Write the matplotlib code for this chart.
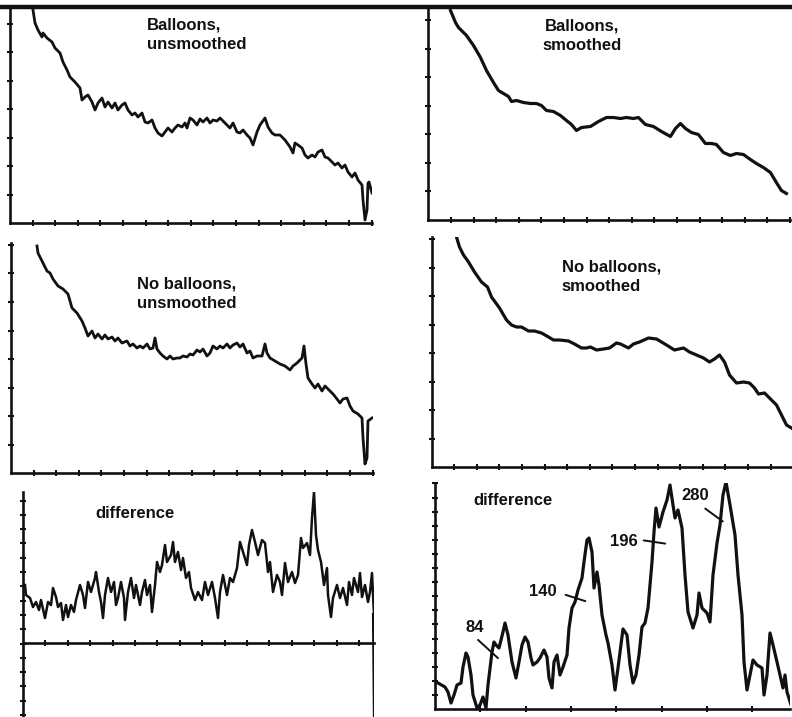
import numpy as np
import matplotlib
matplotlib.use("Agg")
import matplotlib.pyplot as plt

plt.rcParams['font.family'] = ['Liberation Sans', 'DejaVu Sans']

bal_raw_x = [23, 25, 28, 32, 33, 37, 42, 45, 50, 53, 57, 60, 65, 70, 72, 75, 78, 82, 85, 88,
             92, 95, 98, 102, 105, 108, 112, 115, 118, 122, 125, 128, 132, 135, 138, 142, 145,
             148, 152, 155, 158, 162, 165, 168, 172, 175, 177, 180, 183, 187, 190, 193, 197,
             200, 203, 207, 210, 213, 217, 220, 223, 227, 230, 233, 237, 240, 243, 247, 250,
             255, 258, 262, 265, 270, 275, 280, 283, 285, 288, 292, 295, 298, 302, 305, 308,
             312, 315, 318, 322, 325, 328, 332, 335, 338, 342, 345, 348, 352, 353, 355, 357,
             358, 359, 362]
bal_raw_y = [213, 200, 193, 186, 190, 185, 181, 175, 170, 161, 153, 146, 141, 135, 123, 126,
             128, 121, 113, 120, 125, 116, 121, 115, 120, 113, 118, 120, 113, 108, 110, 106,
             110, 101, 100, 103, 95, 90, 87, 91, 95, 91, 95, 98, 96, 100, 95, 105, 103, 98,
             104, 101, 105, 100, 103, 102, 105, 102, 98, 95, 100, 91, 90, 93, 88, 85, 78, 91,
             98, 105, 96, 90, 88, 88, 83, 76, 70, 80, 78, 75, 68, 65, 68, 66, 71, 73, 66, 65,
             61, 58, 60, 55, 58, 51, 46, 50, 43, 38, 23, 3, 13, 40, 41, 30]

bal_sm_x = [22, 27, 30, 38, 45, 52, 58, 65, 70, 75, 80, 83, 88, 95, 102, 108, 113, 118, 125,
            132, 138, 143, 148, 153, 162, 170, 178, 185, 192, 198, 205, 210, 217, 225, 233,
            242, 247, 252, 257, 263, 270, 277, 283, 288, 295, 302, 308, 315, 322, 328, 335,
            342, 348, 353, 358]
bal_sm_y = [209, 197, 192, 184, 174, 162, 149, 137, 129, 126, 123, 118, 119, 117, 116, 116,
            114, 109, 108, 104, 99, 95, 89, 92, 93, 98, 102, 102, 101, 102, 101, 102, 95, 93,
            88, 83, 91, 96, 91, 87, 85, 76, 76, 75, 67, 64, 66, 65, 60, 56, 52, 47, 37, 29, 26]

nob_raw_x = [26, 27, 31, 36, 39, 42, 47, 52, 57, 61, 66, 71, 74, 77, 81, 84, 87, 91, 94, 97,
             101, 104, 107, 111, 116, 119, 122, 126, 129, 132, 136, 139, 142, 144, 146, 149,
             152, 156, 159, 162, 166, 169, 172, 176, 179, 182, 186, 189, 192, 196, 199, 202,
             206, 209, 212, 216, 219, 222, 226, 229, 232, 236, 239, 242, 246, 251, 254, 256,
             259, 264, 269, 274, 279, 282, 286, 291, 293, 295, 297, 301, 304, 307, 311, 314,
             319, 322, 326, 329, 332, 336, 339, 342, 347, 351, 352, 354, 356, 357, 361]
nob_raw_y = [227, 220, 212, 202, 200, 194, 187, 184, 179, 165, 160, 152, 145, 137, 142, 135,
             139, 134, 138, 134, 136, 132, 135, 130, 132, 127, 129, 125, 127, 125, 129, 124,
             125, 135, 124, 120, 117, 114, 117, 114, 115, 115, 117, 116, 119, 118, 123, 121,
             124, 117, 120, 127, 124, 127, 125, 129, 125, 128, 130, 126, 129, 120, 122, 115,
             117, 117, 129, 120, 115, 112, 109, 107, 103, 107, 110, 115, 127, 109, 95, 89, 85,
             89, 82, 87, 82, 79, 74, 70, 74, 75, 67, 62, 59, 55, 35, 9, 15, 52, 55]

nob_sm_x = [25, 28, 32, 37, 43, 50, 56, 60, 68, 75, 80, 85, 90, 97, 103, 110, 117, 122, 128,
            137, 143, 150, 155, 159, 165, 172, 178, 185, 189, 197, 202, 208, 217, 225, 230,
            235, 243, 252, 258, 265, 272, 278, 283, 288, 293, 298, 305, 312, 318, 323, 327,
            333, 338, 345, 350, 355, 360]
nob_sm_y = [230, 220, 212, 205, 195, 185, 180, 170, 159, 147, 142, 140, 140, 136, 136, 134,
            130, 127, 127, 126, 123, 119, 119, 120, 117, 118, 119, 124, 123, 119, 123, 125,
            129, 128, 125, 122, 117, 119, 115, 112, 109, 105, 108, 112, 105, 92, 84, 85, 84,
            79, 73, 74, 69, 62, 52, 42, 39]

diff_raw_x = [2, 3, 7, 10, 13, 16, 18, 22, 25, 28, 30, 33, 35, 38, 40, 43, 45, 48, 51, 53,
              57, 60, 62, 65, 68, 72, 73, 76, 78, 80, 82, 85, 88, 91, 93, 95, 98, 101, 102,
              105, 108, 111, 113, 117, 119, 122, 124, 127, 129, 132, 134, 137, 139, 142, 144,
              148, 150, 152, 155, 158, 160, 163, 166, 168, 172, 175, 179, 182, 185, 189, 192,
              195, 197, 200, 204, 207, 210, 214, 217, 220, 224, 226, 229, 232, 235, 239, 242,
              245, 247, 250, 254, 257, 259, 262, 265, 269, 272, 275, 278, 280, 284, 287, 289,
              291, 293, 295, 298, 301, 304, 305, 308, 310, 314, 317, 320, 324, 326, 329, 331,
              335, 337, 339, 342, 345, 347, 349, 351, 352, 353, 354, 357, 360]
diff_raw_y = [58, 48, 45, 36, 41, 33, 43, 25, 41, 38, 55, 46, 36, 40, 23, 38, 26, 38, 31, 43,
              58, 48, 35, 61, 51, 65, 71, 51, 41, 25, 48, 65, 51, 61, 38, 45, 61, 45, 23, 51,
              65, 45, 58, 38, 51, 63, 48, 58, 31, 58, 81, 71, 78, 98, 81, 88, 101, 81, 91, 73,
              85, 65, 71, 55, 43, 51, 43, 61, 48, 61, 45, 25, 51, 68, 48, 65, 61, 75, 101, 91,
              78, 98, 113, 101, 88, 103, 100, 71, 81, 51, 68, 61, 48, 80, 61, 71, 60, 68, 105,
              95, 100, 88, 125, 151, 108, 93, 81, 58, 75, 48, 26, 45, 58, 45, 55, 38, 61, 48,
              65, 51, 70, 46, 58, 41, 51, 70, 28, -80, -80, 91, 55, 73]

diff_sm_x = [3, 10, 13, 16, 19, 22, 26, 28, 31, 33, 36, 38, 42, 45, 48, 51, 53, 57, 59, 61,
             64, 68, 70, 73, 77, 81, 84, 87, 90, 93, 96, 98, 102, 105, 109, 112, 114, 117,
             119, 122, 125, 128, 132, 134, 137, 140, 143, 147, 149, 152, 154, 157, 159, 162,
             164, 167, 171, 173, 177, 180, 183, 188, 192, 195, 198, 201, 204, 207, 210, 213,
             217, 219, 221, 224, 228, 232, 235, 238, 240, 243, 247, 250, 253, 258, 262, 264,
             267, 272, 275, 278, 282, 285, 288, 291, 295, 300, 303, 307, 309, 312, 315, 318,
             322, 327, 329, 332, 335, 338, 342, 345, 348, 350, 352, 357]
diff_sm_y = [26, 22, 17, 6, 14, 24, 26, 42, 56, 52, 34, 14, 1, 4, 12, 1, 24, 57, 67, 64, 61,
             77, 86, 74, 47, 31, 47, 64, 72, 67, 51, 44, 47, 51, 59, 52, 31, 21, 47, 54, 34,
             42, 54, 81, 101, 107, 119, 131, 147, 169, 171, 157, 121, 137, 124, 94, 74, 66,
             44, 19, 41, 80, 74, 44, 26, 34, 54, 82, 86, 101, 147, 177, 201, 182, 197, 209,
             224, 204, 191, 199, 181, 134, 97, 81, 94, 116, 101, 96, 87, 134, 166, 184, 214,
             227, 204, 174, 134, 94, 47, 19, 34, 49, 44, 41, 14, 34, 76, 64, 47, 34, 21, 34,
             17, 1]

peak_labels = ['84', '140', '196', '280']
label_xy = [(40, 81), (108, 118), (189, 167), (260, 214)]
pointer_xy = [(65, 49), (153, 107), (233, 165), (290, 186)]
pointer_from = [(41, 71), (128, 115), (206, 169), (268, 202)]

W, H = 792, 717
fig = plt.figure(figsize=(W / 100, H / 100), dpi=100)
fig.patch.set_facecolor('white')
INK = '#111111'


def panel(left, top, width, height, ymin=0, xstep=22.6, ystep=28.5):
    ax = fig.add_axes([left / W, 1 - (top + height) / H, width / W, height / H])
    ax.set_xlim(0, width)
    ax.set_ylim(ymin, ymin + height)
    ax.patch.set_alpha(0)
    for s in ['top', 'right']:
        ax.spines[s].set_visible(False)
    for s in ['left', 'bottom']:
        ax.spines[s].set_linewidth(1.9)
        ax.spines[s].set_color(INK)
    ax.set_xticks(np.arange(xstep, width + 1, xstep))
    ax.set_yticks(np.arange(ystep, ymin + height, ystep))
    ax.tick_params(direction='inout', length=5, width=1.5, color=INK,
                   labelleft=False, labelbottom=False)
    return ax


lw_raw = 2.0
lw_sm = 2.3
txt = dict(fontsize=12, fontweight='bold', color=INK, ha='left', va='top',
           linespacing=1.35)

# top border
fig.add_artist(plt.Line2D([0, 1], [1 - 7 / H, 1 - 7 / H], transform=fig.transFigure,
                          color=INK, lw=3.2))

ax1 = panel(10, 9, 362, 214)
ax1.plot(bal_raw_x, bal_raw_y, color=INK, lw=lw_raw)
ax1.text(137, 205, 'Balloons,\nunsmoothed', **txt)

ax2 = panel(428.5, 9, 361.5, 210.5)
ax2.plot(bal_sm_x, bal_sm_y, color=INK, lw=lw_sm)
ax2.text(154, 201, 'Balloons,\nsmoothed', **dict(txt, ha='center', multialignment='center'))

ax3 = panel(11, 243, 362, 230)
ax3.plot(nob_raw_x, nob_raw_y, color=INK, lw=lw_raw)
ax3.text(126, 196, 'No balloons,\nunsmoothed', **txt)

ax4 = panel(431.5, 237, 360.5, 230)
ax4.plot(nob_sm_x, nob_sm_y, color=INK, lw=lw_sm)
ax4.text(130, 207, 'No balloons,\nsmoothed', **txt)

ax5 = panel(23, 492, 351, 225, ymin=-74, xstep=22.4, ystep=14.3)
ax5.set_yticks(np.arange(-72, 151, 14.3))
ax5.spines['bottom'].set_position(('data', 0))
ax5.spines['bottom'].set_bounds(0, 351)
ax5.plot(diff_raw_x, diff_raw_y, color=INK, lw=1.8)
# the end-of-record drop is printed heavier in the original
ax5.plot(diff_raw_x[-6:-2], diff_raw_y[-6:-2], color=INK, lw=3.0)
ax5.text(72, 137, 'difference', **txt)

ax6 = panel(435, 483, 355, 226, xstep=45.3, ystep=14.1)
ax6.plot(diff_sm_x, diff_sm_y, color=INK, lw=lw_sm)
ax6.text(38, 216, 'difference', **txt)
for lab, (tx, ty), p0, p1 in zip(peak_labels, label_xy, pointer_from, pointer_xy):
    ax6.text(tx, ty, lab, fontsize=12, fontweight='bold', color=INK,
             ha='center', va='center')
    ax6.annotate('', xy=p1, xytext=p0,
                 arrowprops=dict(arrowstyle='-', color=INK, lw=1.4))

fig.savefig('out.png', dpi=100, facecolor='white')
